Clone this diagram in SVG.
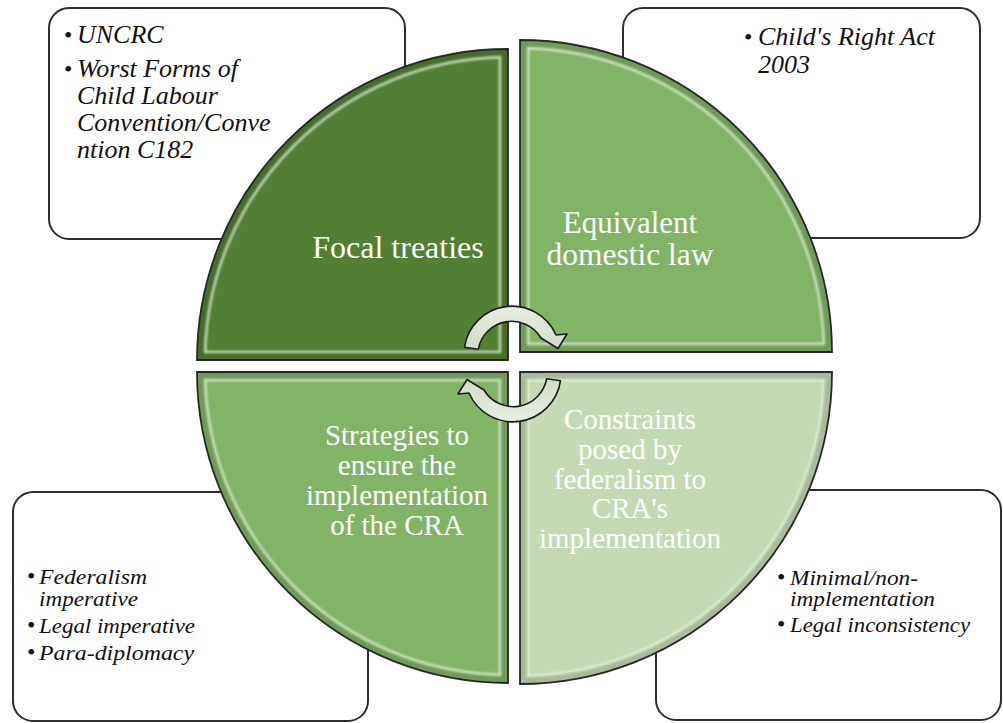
<svg xmlns="http://www.w3.org/2000/svg" width="1003" height="723" viewBox="0 0 1003 723">
  <style>
    .box { fill: #ffffff; stroke: #2e2e2e; stroke-width: 2; }
    .item { font-family: "Liberation Serif", "Times New Roman", serif; font-style: italic; fill: #111111; }
    .dot { font-family: "Liberation Serif", "Times New Roman", serif; fill: #111111; font-size: 24px; }
    .big { font-size: 26px; }
    .small { font-size: 20px; }
    .quad { stroke: #2b2b2b; stroke-width: 1.8; }
    .label { font-family: "Liberation Serif", "Times New Roman", serif; fill: #ffffff; text-anchor: middle; }
    .shade { fill: none; stroke: #000000; stroke-opacity: 0.14; stroke-width: 16; }
    .glint { fill: none; stroke: #eaf5df; stroke-opacity: 0.75; stroke-width: 2.6; filter: url(#soft); }
    .cyc { fill: url(#arrowFill); stroke: #1c1c1c; stroke-width: 1.6; stroke-linejoin: round; }
  </style>
  <defs>
    <filter id="soft" x="-5%" y="-5%" width="110%" height="110%">
      <feGaussianBlur stdDeviation="1"/>
    </filter>
    <linearGradient id="arrowFill" x1="0" y1="0" x2="0" y2="1">
      <stop offset="0" stop-color="#e8efe2"/>
      <stop offset="1" stop-color="#cfdcc6"/>
    </linearGradient>
    <path id="tlShape" d="M508,360 L197,360 A311,311 0 0 1 508,49 Z"/>
    <path id="trShape" d="M520,352 L520,40 A312,312 0 0 1 832,352 Z"/>
    <path id="blShape" d="M508,372 L508,683 A311,311 0 0 1 197,372 Z"/>
    <path id="brShape" d="M520,372 L832,372 A312,312 0 0 1 520,684 Z"/>
    <clipPath id="tlClip"><use href="#tlShape"/></clipPath>
    <clipPath id="trClip"><use href="#trShape"/></clipPath>
    <clipPath id="blClip"><use href="#blShape"/></clipPath>
    <clipPath id="brClip"><use href="#brShape"/></clipPath>
    <!-- clockwise cycle arrow over the top of the centre -->
    <path id="cycleArrow" d="M464.5,347.3 A48,48 0 0 1 556,335 L567,334 L558,348.5 L541,338 A34,34 0 0 0 478.3,349.3 Z"/>
  </defs>

  <!-- detail boxes behind the wheel -->
  <g id="box-treaties">
    <rect class="box" x="49" y="8" width="356" height="231" rx="20"/>
    <text class="dot" x="64" y="43">•</text>
    <text class="item big" x="77" y="43">UNCRC</text>
    <text class="dot" x="64" y="77">•</text>
    <text class="item big" x="77" y="77">Worst Forms of</text>
    <text class="item big" x="77" y="104">Child Labour</text>
    <text class="item big" x="77" y="131">Convention/Conve</text>
    <text class="item big" x="77" y="158">ntion C182</text>
  </g>

  <g id="box-domestic">
    <rect class="box" x="623" y="8" width="357" height="230" rx="20"/>
    <text class="dot" x="744" y="45">•</text>
    <text class="item big" x="758" y="45">Child's Right Act</text>
    <text class="item big" x="758" y="73">2003</text>
  </g>

  <g id="box-strategies">
    <rect class="box" x="13" y="492" width="355" height="229" rx="20"/>
    <text class="dot" x="27" y="584">•</text>
    <text class="item small" x="39" y="584" textLength="108" lengthAdjust="spacingAndGlyphs">Federalism</text>
    <text class="item small" x="39" y="606" textLength="99" lengthAdjust="spacingAndGlyphs">imperative</text>
    <text class="dot" x="27" y="633">•</text>
    <text class="item small" x="39" y="633" textLength="156" lengthAdjust="spacingAndGlyphs">Legal imperative</text>
    <text class="dot" x="27" y="660">•</text>
    <text class="item small" x="39" y="660" textLength="155" lengthAdjust="spacingAndGlyphs">Para-diplomacy</text>
  </g>

  <g id="box-constraints">
    <rect class="box" x="656" y="490" width="345" height="230" rx="20"/>
    <text class="dot" x="777" y="585">•</text>
    <text class="item small" x="790" y="585" textLength="128" lengthAdjust="spacingAndGlyphs">Minimal/non-</text>
    <text class="item small" x="790" y="606" textLength="145" lengthAdjust="spacingAndGlyphs">implementation</text>
    <text class="dot" x="777" y="632">•</text>
    <text class="item small" x="790" y="632" textLength="180" lengthAdjust="spacingAndGlyphs">Legal inconsistency</text>
  </g>

  <!-- the four quarters of the wheel -->
  <g id="quad-focal">
    <use href="#tlShape" class="quad" fill="#527f34"/>
    <use href="#tlShape" class="shade" clip-path="url(#tlClip)"/>
    <path class="glint" d="M500,352 L205.1,352 A303,303 0 0 1 500,57.1 Z"/>
    <text class="label" x="398" y="258" font-size="32">Focal treaties</text>
  </g>

  <g id="quad-equivalent">
    <use href="#trShape" class="quad" fill="#82b468"/>
    <use href="#trShape" class="shade" clip-path="url(#trClip)"/>
    <path class="glint" d="M528,344 L528,48.1 A304,304 0 0 1 823.9,344 Z"/>
    <text class="label" x="630" y="233" font-size="31">Equivalent</text>
    <text class="label" x="630" y="265" font-size="31" textLength="167" lengthAdjust="spacingAndGlyphs">domestic law</text>
  </g>

  <g id="quad-strategies">
    <use href="#blShape" class="quad" fill="#82b468"/>
    <use href="#blShape" class="shade" clip-path="url(#blClip)"/>
    <path class="glint" d="M500,380 L500,674.9 A303,303 0 0 1 205.1,380 Z"/>
    <text class="label" x="397" y="445" font-size="29">Strategies to</text>
    <text class="label" x="397" y="475" font-size="29">ensure the</text>
    <text class="label" x="397" y="505" font-size="29">implementation</text>
    <text class="label" x="397" y="535" font-size="29">of the CRA</text>
  </g>

  <g id="quad-constraints">
    <use href="#brShape" class="quad" fill="#c4dab5"/>
    <use href="#brShape" class="shade" clip-path="url(#brClip)"/>
    <path class="glint" d="M528,380 L823.9,380 A304,304 0 0 1 528,675.9 Z"/>
    <text class="label" x="630" y="429" font-size="29">Constraints</text>
    <text class="label" x="630" y="459" font-size="29">posed by</text>
    <text class="label" x="630" y="489" font-size="29">federalism to</text>
    <text class="label" x="630" y="518" font-size="29">CRA's</text>
    <text class="label" x="630" y="548" font-size="29">implementation</text>
  </g>

  <!-- cycle arrows in the centre -->
  <g id="connectors">
    <use href="#cycleArrow" class="cyc"/>
    <use href="#cycleArrow" class="cyc" transform="rotate(180 512.5 364)"/>
  </g>
</svg>
